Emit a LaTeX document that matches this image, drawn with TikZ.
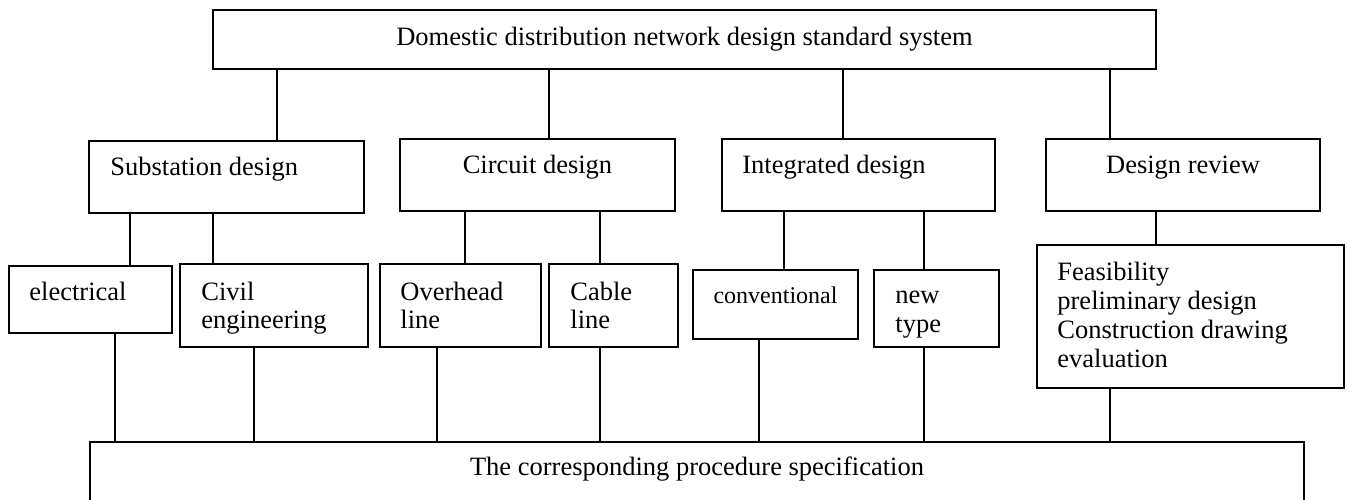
\documentclass[tikz,border=0pt]{standalone}
\usepackage{fontspec}
\setmainfont{Liberation Serif}
\usetikzlibrary{fit}
\newcommand\mybox[5]{\node[box,fit={(#2,#3) (#4,#5)}] (#1) {};}
\begin{document}
\begin{tikzpicture}[x=0.5pt,y=-0.5pt,
  box/.style={draw,line width=0.95pt,inner sep=0pt},
  conn/.style={draw,line width=0.95pt},
  lbl/.style={inner sep=0pt,anchor=base west,font=\fontsize{13.25}{15}\selectfont},
  clbl/.style={lbl,anchor=base}]
\useasboundingbox (0,0) rectangle (1352,499);
\clip (0,0) rectangle (1352,499);
% boxes
\mybox{top}{213}{10}{1156}{69}
\mybox{sub}{89}{141}{364}{213}
\mybox{cir}{400}{139}{675}{211}
\mybox{int}{722}{139}{995}{211}
\mybox{rev}{1046}{139}{1320}{211}
\mybox{ele}{9}{266}{172}{333}
\mybox{civ}{180}{264}{368}{347}
\mybox{ovh}{380}{264}{541}{347}
\mybox{cab}{549}{264}{678}{347}
\mybox{con}{693}{270}{858}{339}
\mybox{new}{874}{270}{999}{347}
\mybox{fea}{1037}{245}{1344}{388}
\mybox{spec}{90}{442}{1304}{530}
% texts
\node[clbl] (ttop) at (684.5,45) {Domestic distribution network design standard system};
\node[lbl] (tsub) at (110,175) {Substation design};
\node[clbl] (tcir) at (537.5,173) {Circuit design};
\node[lbl] (tint) at (742,173) {Integrated design};
\node[clbl] (trev) at (1183,173) {Design review};
\node[lbl] (tele) at (29,300) {electrical};
\node[lbl] (tciv1) at (201,300) {Civil};
\node[lbl] (tciv2) at (201,328) {engineering};
\node[lbl] (tovh1) at (400,300) {Overhead};
\node[lbl] (tovh2) at (400,328) {line};
\node[lbl] (tcab1) at (570,300) {Cable};
\node[lbl] (tcab2) at (570,328) {line};
\node[clbl,font=\fontsize{12}{14}\selectfont] (tcon) at (775.5,303) {conventional};
\node[lbl] (tnew1) at (895,303) {new};
\node[lbl] (tnew2) at (895,332) {type};
\node[lbl] (tfea1) at (1057,280) {Feasibility};
\node[lbl] (tfea2) at (1057,309) {preliminary design};
\node[lbl] (tfea3) at (1057,338) {Construction drawing};
\node[lbl] (tfea4) at (1057,367) {evaluation};
\node[clbl] (tspec) at (697,475) {The corresponding procedure specification};
% connector x positions
\coordinate (a1) at (277,0);
\coordinate (a2) at (549,0);
\coordinate (a3) at (843,0);
\coordinate (a4) at (1110,0);
\coordinate (b1) at (130,0);
\coordinate (b2) at (213,0);
\coordinate (b3) at (465,0);
\coordinate (b4) at (600,0);
\coordinate (b5) at (784,0);
\coordinate (b6) at (924,0);
\coordinate (b7) at (1156,0);
\coordinate (c1) at (115,0);
\coordinate (c2) at (254,0);
\coordinate (c3) at (437,0);
\coordinate (c4) at (600,0);
\coordinate (c5) at (759,0);
\coordinate (c6) at (924,0);
\coordinate (c7) at (1110,0);
% connectors top -> level 2
\draw[conn] (top.south -| a1) -- (sub.north -| a1);
\draw[conn] (top.south -| a2) -- (cir.north -| a2);
\draw[conn] (top.south -| a3) -- (int.north -| a3);
\draw[conn] (top.south -| a4) -- (rev.north -| a4);
% level 2 -> level 3
\draw[conn] (sub.south -| b1) -- (ele.north -| b1);
\draw[conn] (sub.south -| b2) -- (civ.north -| b2);
\draw[conn] (cir.south -| b3) -- (ovh.north -| b3);
\draw[conn] (cir.south -| b4) -- (cab.north -| b4);
\draw[conn] (int.south -| b5) -- (con.north -| b5);
\draw[conn] (int.south -| b6) -- (new.north -| b6);
\draw[conn] (rev.south -| b7) -- (fea.north -| b7);
% level 3 -> bottom
\draw[conn] (ele.south -| c1) -- (spec.north -| c1);
\draw[conn] (civ.south -| c2) -- (spec.north -| c2);
\draw[conn] (ovh.south -| c3) -- (spec.north -| c3);
\draw[conn] (cab.south -| c4) -- (spec.north -| c4);
\draw[conn] (con.south -| c5) -- (spec.north -| c5);
\draw[conn] (new.south -| c6) -- (spec.north -| c6);
\draw[conn] (fea.south -| c7) -- (spec.north -| c7);
\end{tikzpicture}
\end{document}
